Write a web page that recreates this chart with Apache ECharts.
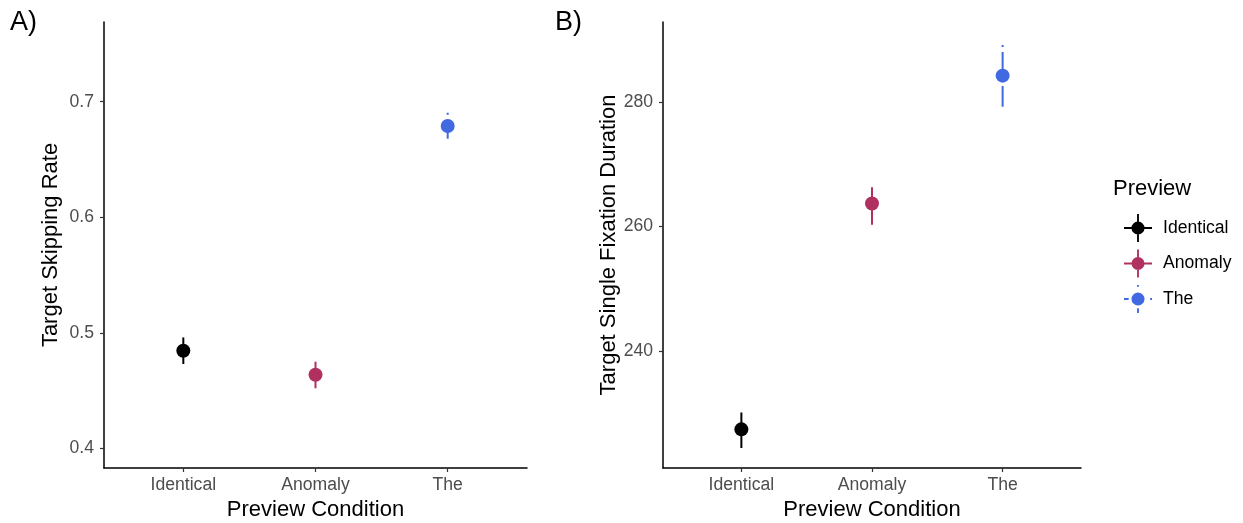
<!DOCTYPE html>
<html>
<head>
<meta charset="utf-8">
<script src="https://cdn.jsdelivr.net/npm/echarts@6/dist/echarts.min.js"></script>
<style>
html,body{margin:0;padding:0;background:#fff;}
#c{width:1243px;height:523px;}
</style>
</head>
<body>
<div id="c"></div>
<script>
// ---- data ----
const categories = ['Identical', 'Anomaly', 'The'];
// Panel A: Target Skipping Rate
const skipMean  = [0.4845, 0.4637, 0.679];
const skipLower = [0.473, 0.452, 0.668];
const skipUpper = [0.496, 0.475, 0.6905];
const skipTicks = [0.4, 0.5, 0.6, 0.7];
// Panel B: Target Single Fixation Duration
const sfdMean  = [227.5, 263.7, 284.2];
const sfdLower = [224.5, 260.3, 279.2];
const sfdUpper = [230.2, 266.3, 289.1];
const sfdTicks = [240, 260, 280];

// ---- styles ----
const colors = ['#000000', '#B03060', '#4169E1'];
const dashes = [null, null, [2, 5, 22, 5]];
const FONT = '"Liberation Sans", Arial, Helvetica, sans-serif';

const icons = [
  'path://M0 14H30V16H0Z M14 0H16V30H14Z M8 15A7 7 0 1 1 22 15A7 7 0 1 1 8 15Z',
  'path://M0 14H30V16H0Z M14 0H16V30H14Z M8 15A7 7 0 1 1 22 15A7 7 0 1 1 8 15Z',
  'path://M0 14H5V16H0Z M28 14H30V16H28Z M14 0H16V2H14Z M14 25H16V30H14Z M8 15A7 7 0 1 1 22 15A7 7 0 1 1 8 15Z'
];

function makeRender(color, dash) {
  return function (params, api) {
    const x = api.value(0);
    const pm = api.coord([x, api.value(1)]);
    const pl = api.coord([x, api.value(2)]);
    const pu = api.coord([x, api.value(3)]);
    return {
      type: 'group',
      children: [
        {type: 'line', shape: {x1: pu[0], y1: pu[1], x2: pl[0], y2: pl[1]},
         style: {stroke: color, lineWidth: 2, lineDash: dash || null}},
        {type: 'circle', shape: {cx: pm[0], cy: pm[1], r: 7}, style: {fill: color}}
      ]
    };
  };
}

const panels = [
  {mean: skipMean, lower: skipLower, upper: skipUpper},
  {mean: sfdMean, lower: sfdLower, upper: sfdUpper}
];
const series = [];
panels.forEach((p, pi) => {
  categories.forEach((cat, i) => {
    series.push({
      type: 'custom',
      name: cat,
      xAxisIndex: pi,
      yAxisIndex: pi,
      itemStyle: {color: colors[i]},
      encode: {x: 0, y: [1, 2, 3]},
      data: [[i, p.mean[i], p.lower[i], p.upper[i]]],
      renderItem: makeRender(colors[i], dashes[i]),
      silent: true
    });
  });
});

function xAxis(gi) {
  return {
    type: 'value', gridIndex: gi, min: -0.6, max: 2.6,
    name: 'Preview Condition', nameLocation: 'middle', nameGap: 31,
    nameTextStyle: {fontFamily: FONT, fontSize: 22, color: '#000'},
    axisLine: {show: true, onZero: false, lineStyle: {color: '#000', width: 1.5}},
    axisTick: {show: true, customValues: [0, 1, 2], length: 4, lineStyle: {color: '#333', width: 1.2}},
    axisLabel: {show: true, customValues: [0, 1, 2], margin: 8,
      formatter: v => categories[Math.round(v)] || '',
      fontFamily: FONT, fontSize: 17.6, color: '#4D4D4D'},
    splitLine: {show: false}
  };
}
function yAxis(gi, name, min, max, ticks, fmt) {
  return {
    type: 'value', gridIndex: gi, min: min, max: max,
    name: name, nameLocation: 'middle', nameGap: 42,
    nameTextStyle: {fontFamily: FONT, fontSize: 22, color: '#000'},
    axisLine: {show: true, onZero: false, lineStyle: {color: '#000', width: 1.5}},
    axisTick: {show: true, customValues: ticks, length: 4, lineStyle: {color: '#333', width: 1.2}},
    axisLabel: {show: true, customValues: ticks, margin: 10, formatter: fmt,
      fontFamily: FONT, fontSize: 17.6, color: '#4D4D4D'},
    splitLine: {show: false}
  };
}

const option = {
  backgroundColor: '#fff',
  animation: false,
  grid: [
    {left: 104, right: 1243 - 527, top: 22, bottom: 523 - 468, outerBoundsMode: 'none', containLabel: false},
    {left: 663, right: 1243 - 1081, top: 22, bottom: 523 - 468, outerBoundsMode: 'none', containLabel: false}
  ],
  xAxis: [xAxis(0), xAxis(1)],
  yAxis: [
    yAxis(0, 'Target Skipping Rate', 0.383, 0.769, skipTicks, v => v.toFixed(1)),
    yAxis(1, 'Target Single Fixation Duration', 221.3, 292.8, sfdTicks, v => String(Math.round(v)))
  ],
  legend: {
    orient: 'vertical', left: 1119, top: 209,
    itemWidth: 28, itemHeight: 28, itemGap: 7.5,
    selectedMode: false,
    textStyle: {fontFamily: FONT, fontSize: 17.6, color: '#000', padding: [0, 0, 0, 6]},
    data: categories.map((c, i) => ({name: c, icon: icons[i]}))
  },
  graphic: [
    {type: 'text', left: 10, top: 9, style: {text: 'A)', fontFamily: FONT, fontSize: 27, fill: '#000'}},
    {type: 'text', left: 555, top: 9, style: {text: 'B)', fontFamily: FONT, fontSize: 27, fill: '#000'}},
    {type: 'text', left: 1113, top: 178, style: {text: 'Preview', fontFamily: FONT, fontSize: 22, fill: '#000'}}
  ],
  series: series
};

const chart = echarts.init(document.getElementById('c'), null, {renderer: 'canvas'});
chart.setOption(option);
</script>
</body>
</html>
